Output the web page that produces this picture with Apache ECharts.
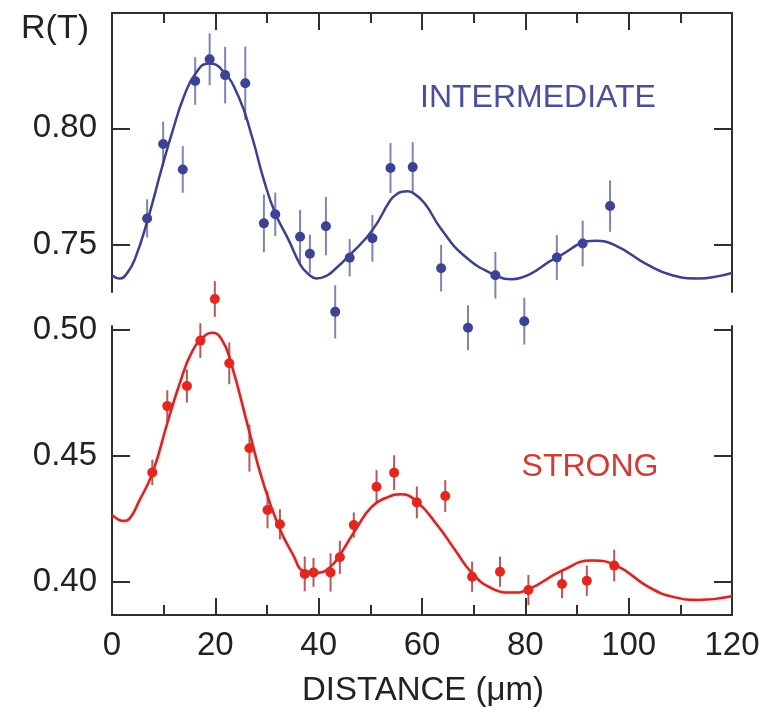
<!DOCTYPE html>
<html>
<head>
<meta charset="utf-8">
<script src="https://cdn.jsdelivr.net/npm/echarts@6/dist/echarts.min.js"></script>
<style>
html,body{margin:0;padding:0;background:#fff;}
#chart{width:769px;height:721px;}
</style>
</head>
<body>
<div id="chart"></div>
<script>
// ---- data ----
const xTickLabels = [0, 20, 40, 60, 80, 100, 120];
const topYTicks = [0.75, 0.80];
const bottomYTicks = [0.40, 0.45, 0.50];

// INTERMEDIATE (blue) measurements
const intermX   = [6.8, 9.9, 13.7, 16.1, 18.9, 21.9, 25.8, 29.4, 31.6, 36.4, 38.3, 41.4, 43.2, 46.0, 50.4, 53.9, 58.2, 63.7, 68.9, 74.2, 79.8, 86.1, 91.1, 96.4];
const intermY   = [0.7614, 0.7933, 0.7824, 0.8203, 0.8296, 0.8228, 0.8193, 0.7593, 0.7632, 0.7536, 0.7463, 0.7581, 0.7214, 0.7446, 0.7529, 0.7830, 0.7834, 0.7401, 0.7146, 0.7371, 0.7174, 0.7447, 0.7507, 0.7667];
const intermErr = [0.0082, 0.0096, 0.0100, 0.0102, 0.0111, 0.0121, 0.0157, 0.0124, 0.0093, 0.0114, 0.0082, 0.0125, 0.0114, 0.0080, 0.0100, 0.0107, 0.0107, 0.0100, 0.0096, 0.0100, 0.0100, 0.0096, 0.0098, 0.0110];
// INTERMEDIATE fit curve
const intermFitX = [0, 1.5, 3.0, 4.5, 6.8, 9.7, 11.6, 13.9, 16.2, 18.7, 21.3, 24.5, 27.1, 29.4, 31.6, 34.2, 36.5, 38.0, 39.6, 41.4, 43.0, 46.0, 50.4, 53.9, 55.0, 56.1, 57.2, 58.2, 60.5, 63.7, 68.4, 74.2, 77.4, 79.0, 86.1, 93.5, 97.3, 103.8, 108.4, 113.5, 117.4, 120];
const intermFitY = [0.7371, 0.7357, 0.7382, 0.7444, 0.7600, 0.7835, 0.7979, 0.8135, 0.8236, 0.8278, 0.8250, 0.8135, 0.7964, 0.7778, 0.7636, 0.7521, 0.7414, 0.7376, 0.7357, 0.7367, 0.7393, 0.7457, 0.7564, 0.7693, 0.7716, 0.7728, 0.7730, 0.7724, 0.7679, 0.7569, 0.7450, 0.7371, 0.7354, 0.7359, 0.7447, 0.7518, 0.7500, 0.7414, 0.7371, 0.7357, 0.7367, 0.7381];

// STRONG (red) measurements
const strongX   = [7.8, 10.7, 14.5, 17.1, 19.9, 22.7, 26.6, 30.1, 32.5, 37.3, 39.0, 42.3, 44.1, 46.8, 51.2, 54.6, 59.0, 64.5, 69.7, 75.1, 80.6, 87.1, 91.9, 97.2];
const strongY   = [0.4435, 0.4698, 0.4778, 0.4958, 0.5123, 0.4868, 0.4531, 0.4286, 0.4229, 0.4032, 0.4038, 0.4038, 0.4098, 0.4226, 0.4378, 0.4434, 0.4316, 0.4341, 0.4021, 0.4041, 0.3968, 0.3992, 0.4005, 0.4065];
const strongErr = [0.0050, 0.0063, 0.0066, 0.0069, 0.0071, 0.0083, 0.0093, 0.0073, 0.0060, 0.0069, 0.0057, 0.0076, 0.0066, 0.0050, 0.0066, 0.0069, 0.0063, 0.0063, 0.0060, 0.0060, 0.0060, 0.0056, 0.0060, 0.0063];
// STRONG fit curve
const strongFitX = [0, 1.2, 2.3, 3.5, 5.2, 7.8, 10.7, 12.9, 15.5, 18.1, 19.4, 21.3, 23.0, 26.5, 29.1, 32.3, 34.9, 37.4, 40.0, 42.3, 44.1, 47.1, 50.3, 53.5, 55.8, 59.0, 63.2, 66.4, 69.7, 73.5, 77.4, 80.6, 87.1, 92.9, 97.4, 103.8, 109.0, 113.5, 120];
const strongFitY = [0.4266, 0.4248, 0.4242, 0.4254, 0.4319, 0.4431, 0.4630, 0.4775, 0.4914, 0.4980, 0.4989, 0.4960, 0.4873, 0.4603, 0.4405, 0.4219, 0.4114, 0.4041, 0.4037, 0.4061, 0.4107, 0.4206, 0.4299, 0.4338, 0.4348, 0.4319, 0.4219, 0.4127, 0.4035, 0.3975, 0.3958, 0.3971, 0.4045, 0.4085, 0.4067, 0.3981, 0.3939, 0.3929, 0.3944];

// ---- styling ----
const FONT = "'Liberation Sans', Arial, Helvetica, sans-serif";
const AX = '#2f2f2f';
const BLUE = '#3d4297';
const BLUE_LINE = '#3c4189';
const BLUE_BAR = '#7f84b0';
const RED = '#e3261e';
const RED_LINE = '#c92a29';
const RED_BAR = '#b45a58';

const zip3 = (xs, ys, es) => xs.map((x, i) => [x, ys[i], es[i]]);
const zip2 = (xs, ys) => xs.map((x, i) => [x, ys[i]]);

function errRender(color) {
  return function (params, api) {
    const x = api.value(0), y = api.value(1), e = api.value(2);
    const p1 = api.coord([x, y - e]);
    const p2 = api.coord([x, y + e]);
    return {
      type: 'line',
      shape: { x1: p1[0], y1: p1[1], x2: p2[0], y2: p2[1] },
      style: { stroke: color, lineWidth: 2 }
    };
  };
}

const lineStyle = { color: AX, width: 2 };

function xAxisCfg(grid, pos, labels) {
  return {
    gridIndex: grid, type: 'value', min: 0, max: 120, interval: 20, position: pos,
    axisLine: { show: true, onZero: false, lineStyle },
    axisTick: { show: true, inside: true, length: 17, lineStyle },
    minorTick: { show: true, splitNumber: 2, length: 10, lineStyle },
    splitLine: { show: false }, minorSplitLine: { show: false },
    axisLabel: labels ? {
      show: true, fontSize: 33, fontFamily: FONT, color: '#222', margin: 14,
      customValues: xTickLabels, formatter: v => String(v)
    } : { show: false }
  };
}

function yAxisCfg(grid, pos, min, max, ticks, labels) {
  return {
    gridIndex: grid, type: 'value', min, max, position: pos,
    axisLine: { show: true, onZero: false, lineStyle },
    axisTick: { show: true, inside: true, length: 18, lineStyle, customValues: ticks },
    splitLine: { show: false },
    axisLabel: labels ? {
      show: true, fontSize: 33, fontFamily: FONT, color: '#222', margin: 15,
      customValues: ticks, formatter: v => v.toFixed(2)
    } : { show: false }
  };
}

const chart = echarts.init(document.getElementById('chart'), null, { renderer: 'canvas' });
chart.setOption({
  animation: false,
  backgroundColor: '#fff',
  grid: [
    { left: 112, right: 37, top: 13, height: 279 },
    { left: 112, right: 37, top: 326, height: 289 }
  ],
  xAxis: [ xAxisCfg(0, 'top', false), xAxisCfg(1, 'bottom', true) ],
  yAxis: [
    yAxisCfg(0, 'left', 0.7299, 0.8494, topYTicks, true),
    yAxisCfg(0, 'right', 0.7299, 0.8494, topYTicks, false),
    yAxisCfg(1, 'left', 0.3869, 0.5016, bottomYTicks, true),
    yAxisCfg(1, 'right', 0.3869, 0.5016, bottomYTicks, false)
  ],
  series: [
    { type: 'custom', xAxisIndex: 0, yAxisIndex: 0, data: zip3(intermX, intermY, intermErr),
      encode: { x: 0, y: 1 }, renderItem: errRender(BLUE_BAR), clip: false, z: 2 },
    { type: 'line', xAxisIndex: 0, yAxisIndex: 0, data: zip2(intermFitX, intermFitY),
      smooth: 0.5, showSymbol: false, lineStyle: { color: BLUE_LINE, width: 2.5 }, z: 3 },
    { type: 'scatter', xAxisIndex: 0, yAxisIndex: 0, data: zip2(intermX, intermY),
      symbolSize: 10, itemStyle: { color: BLUE, opacity: 1 }, clip: false, z: 4 },

    { type: 'custom', xAxisIndex: 1, yAxisIndex: 2, data: zip3(strongX, strongY, strongErr),
      encode: { x: 0, y: 1 }, renderItem: errRender(RED_BAR), clip: false, z: 2 },
    { type: 'line', xAxisIndex: 1, yAxisIndex: 2, data: zip2(strongFitX, strongFitY),
      smooth: 0.5, showSymbol: false,
      lineStyle: { color: RED_LINE, width: 2.5, shadowColor: 'rgba(235,90,90,0.4)', shadowBlur: 3 }, z: 3 },
    { type: 'scatter', xAxisIndex: 1, yAxisIndex: 2, data: zip2(strongX, strongY),
      symbolSize: 10, itemStyle: { color: RED, opacity: 1 }, clip: false, z: 4 }
  ],
  graphic: [
    { type: 'text', x: 55, y: 29, style: { text: 'R(T)', fontSize: 34, fontFamily: FONT, fill: '#222', textAlign: 'center', textVerticalAlign: 'middle' } },
    { type: 'text', x: 538, y: 98, style: { text: 'INTERMEDIATE', fontSize: 32, fontFamily: FONT, fill: '#4a4f9c', textAlign: 'center', textVerticalAlign: 'middle' } },
    { type: 'text', x: 590, y: 467, style: { text: 'STRONG', fontSize: 32, fontFamily: FONT, fill: '#d23a36', textAlign: 'center', textVerticalAlign: 'middle' } },
    { type: 'text', x: 423, y: 691, style: { text: 'DISTANCE (μm)', fontSize: 33, fontFamily: FONT, fill: '#222', textAlign: 'center', textVerticalAlign: 'middle' } }
  ]
});
</script>
</body>
</html>
